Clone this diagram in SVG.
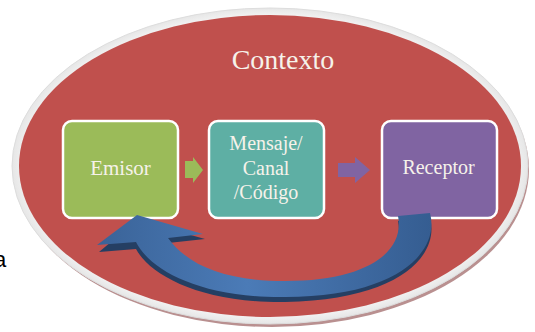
<svg xmlns="http://www.w3.org/2000/svg" width="535" height="332" viewBox="0 0 535 332">
  <defs>
    <linearGradient id="blueTop" x1="0" y1="0" x2="1" y2="0">
      <stop offset="0" stop-color="#3a6398"/>
      <stop offset="0.45" stop-color="#4b7bb7"/>
      <stop offset="1" stop-color="#355d91"/>
    </linearGradient>
    <radialGradient id="rim" cx="0.5" cy="0.5" r="0.5">
      <stop offset="0.9" stop-color="#ffffff"/>
      <stop offset="1" stop-color="#e6e6e6"/>
    </radialGradient>
    <style>
      .box { stroke: #ffffff; stroke-width: 2.5; }
      .lbl { fill: #f6f2ea; text-anchor: middle; }
    </style>
  </defs>
  <rect width="535" height="332" fill="#ffffff"/>
  <text x="-6" y="267" font-family="'Liberation Sans', Arial, sans-serif" font-size="22" fill="#000000">a</text>

  <g id="contexto">
    <ellipse cx="272" cy="169" rx="257" ry="158" fill="#b99090"/>
    <ellipse cx="270" cy="166" rx="258" ry="158" fill="url(#rim)" stroke="#dddddd" stroke-width="1"/>
    <ellipse cx="270" cy="166" rx="251" ry="151" fill="#c0504d"/>
    <text class="lbl" x="283" y="69" font-family="'Liberation Serif', 'Times New Roman', serif" font-size="28">Contexto</text>
  </g>

  <g id="emisor">
    <rect class="box" x="63" y="121" width="115" height="97" rx="9" fill="#9bbb59"/>
    <text class="lbl" x="120.5" y="175" font-family="'Liberation Serif', 'Times New Roman', serif" font-size="21">Emisor</text>
  </g>

  <g id="mensaje">
    <rect class="box" x="209" y="121" width="115" height="97" rx="9" fill="#5eafa4"/>
    <text class="lbl" x="266" y="150" font-family="'Liberation Serif', 'Times New Roman', serif" font-size="20">Mensaje/</text>
    <text class="lbl" x="266" y="175" font-family="'Liberation Serif', 'Times New Roman', serif" font-size="20">Canal</text>
    <text class="lbl" x="266" y="199" font-family="'Liberation Serif', 'Times New Roman', serif" font-size="20">/Código</text>
  </g>

  <g id="receptor">
    <rect class="box" x="382" y="121" width="115" height="97" rx="9" fill="#8064a2"/>
    <text class="lbl" x="438.5" y="174" font-family="'Liberation Serif', 'Times New Roman', serif" font-size="20">Receptor</text>
  </g>

  <g id="connectors">
    <path d="M185,161 L193,161 L193,157 L203,170 L193,183 L193,178 L185,178 Z" fill="#9bbb59"/>
    <path d="M338,163 L355,163 L355,157 L370,170 L355,183 L355,177 L338,177 Z" fill="#8064a2"/>
    <path d="M398,221 L430,218 C440,255 400,300 285,302 C200,303 150,275 136,249 L99,252 L137,220 L205,239 L168,243 C190,273 230,286 285,286 C370,286 405,255 398,221 Z" fill="#253f63"/>
    <path d="M398,216 L430,213 C440,250 400,297 285,297 C200,298 150,270 136,242 L97,245 L137,215 L203,234 L168,238 C190,268 230,281 285,281 C370,281 405,250 398,216 Z" fill="url(#blueTop)"/>
  </g>
</svg>
